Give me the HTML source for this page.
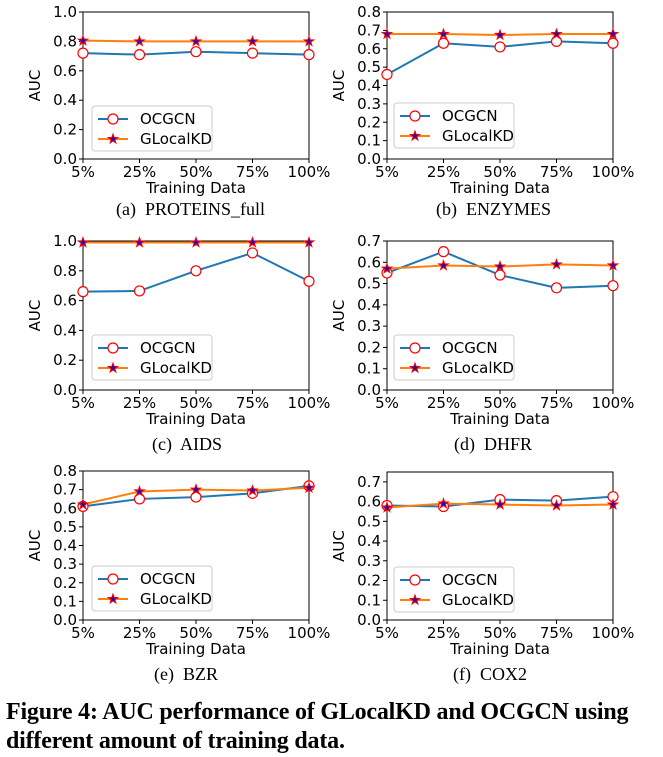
<!DOCTYPE html>
<html><head><meta charset="utf-8"><style>
body{margin:0;background:#fff;width:663px;height:757px;overflow:hidden}
svg{position:absolute;left:0;top:0}
.cap{position:absolute;font-family:"Liberation Serif",serif;font-size:18px;color:#000;white-space:nowrap}
.fig{position:absolute;left:6px;font-family:"Liberation Serif",serif;font-weight:bold;font-size:24px;line-height:29px;white-space:nowrap;letter-spacing:-0.2px}
</style></head><body>
<svg id="chart" width="663" height="757"></svg>
<div class="cap" style="left:116px;top:199px">(a)&nbsp; PROTEINS_full</div>
<div class="cap" style="left:436px;top:199px">(b)&nbsp; ENZYMES</div>
<div class="cap" style="left:152px;top:434px">(c)&nbsp; AIDS</div>
<div class="cap" style="left:454px;top:434px">(d)&nbsp; DHFR</div>
<div class="cap" style="left:154px;top:664px">(e)&nbsp; BZR</div>
<div class="cap" style="left:453px;top:664px">(f)&nbsp; COX2</div>
<div class="fig" style="top:698px">Figure 4: AUC performance of GLocalKD and OCGCN using<br>different amount of training data.</div>
<script>
const categories=["5%","25%","50%","75%","100%"];
const ocgcnA=[0.72,0.71,0.73,0.72,0.71];
const glocalA=[0.805,0.80,0.80,0.80,0.80];
const ocgcnB=[0.46,0.63,0.61,0.64,0.63];
const glocalB=[0.68,0.68,0.675,0.68,0.68];
const ocgcnC=[0.66,0.665,0.80,0.92,0.73];
const glocalC=[0.99,0.99,0.99,0.99,0.99];
const ocgcnD=[0.55,0.65,0.54,0.48,0.49];
const glocalD=[0.57,0.585,0.58,0.59,0.585];
const ocgcnE=[0.61,0.65,0.66,0.68,0.72];
const glocalE=[0.62,0.69,0.70,0.695,0.71];
const ocgcnF=[0.58,0.575,0.61,0.605,0.625];
const glocalF=[0.57,0.59,0.585,0.58,0.585];
const ticksA=[0,0.2,0.4,0.6,0.8,1.0];
const ticks08=[0,0.1,0.2,0.3,0.4,0.5,0.6,0.7,0.8];
const ticks07=[0,0.1,0.2,0.3,0.4,0.5,0.6,0.7];
const NS="http://www.w3.org/2000/svg";
const svg=document.getElementById('chart');
function mk(t,a,p){const e=document.createElementNS(NS,t);for(const k in a)e.setAttribute(k,a[k]);(p||svg).appendChild(e);return e;}
function star(cx,cy,r){let p=[];for(let i=0;i<10;i++){const rr=i%2?r*0.4:r;const a=-Math.PI/2+i*Math.PI/5;p.push((cx+rr*Math.cos(a)).toFixed(1)+","+(cy+rr*Math.sin(a)).toFixed(1));}return p.join(" ");}
const panels=[
 {id:"a",x0:83,x1:309,y0:12,y1:159,ymax:1.0,ticks:ticksA,o:ocgcnA,g:glocalA,leg:[92,106]},
 {id:"b",x0:387,x1:613,y0:12,y1:159,ymax:0.8,ticks:ticks08,o:ocgcnB,g:glocalB,leg:[394,103]},
 {id:"c",x0:83,x1:309,y0:241,y1:390,ymax:1.0,ticks:ticksA,o:ocgcnC,g:glocalC,leg:[92,335]},
 {id:"d",x0:387,x1:613,y0:241,y1:390,ymax:0.7,ticks:ticks07,o:ocgcnD,g:glocalD,leg:[394,335]},
 {id:"e",x0:83,x1:309,y0:471,y1:620,ymax:0.8,ticks:ticks08,o:ocgcnE,g:glocalE,leg:[92,566]},
 {id:"f",x0:387,x1:613,y0:472,y1:620,ymax:0.75,ticks:ticks07,o:ocgcnF,g:glocalF,leg:[394,567]}
];
panels.forEach(P=>{
 const g=mk('g',{});
 
 
 const xs=i=>P.x0+(P.x1-P.x0)*i/(categories.length-1);
 const ys=v=>P.y1-(P.y1-P.y0)*v/P.ymax;
 const fr=mk('rect',{x:P.x0,y:P.y0,width:P.x1-P.x0,height:P.y1-P.y0,fill:'none',stroke:'#000','stroke-width':1},g);
 
 
 P.ticks.forEach(t=>{const y=ys(t);mk('line',{x1:P.x0-4,x2:P.x0,y1:y,y2:y,stroke:'#000'},g);
  const tx=mk('text',{x:P.x0-6,y:y+5,'text-anchor':'end','font-family':'DejaVu Sans,sans-serif','font-size':15},g);tx.textContent=t.toFixed(1);
  
  });
 categories.forEach((c,i)=>{const x=xs(i);mk('line',{x1:x,x2:x,y1:P.y1,y2:P.y1+4,stroke:'#000'},g);
  const tx=mk('text',{x:x,y:P.y1+18,'text-anchor':'middle','font-family':'DejaVu Sans,sans-serif','font-size':15},g);tx.textContent=c;
  
  });
 const xl=mk('text',{x:(P.x0+P.x1)/2,y:P.y1+34,'text-anchor':'middle','font-family':'DejaVu Sans,sans-serif','font-size':15},g);xl.textContent='Training Data';
 
 
 const cy=(P.y0+P.y1)/2;
 const yl=mk('text',{x:P.x0-43,y:cy,'text-anchor':'middle','font-family':'DejaVu Sans,sans-serif','font-size':15,transform:`rotate(-90 ${P.x0-43} ${cy})`},g);yl.textContent='AUC';
 
 
 const pts=a=>a.map((v,i)=>xs(i)+','+ys(v)).join(' ');
 const lo=mk('polyline',{points:pts(P.o),fill:'none',stroke:'#1f77b4','stroke-width':2},g);
 
 
 const lg=mk('polyline',{points:pts(P.g),fill:'none',stroke:'#ff7f0e','stroke-width':2},g);
 
 
 P.o.forEach((v,i)=>{const c=mk('circle',{cx:xs(i),cy:ys(v),r:5,fill:'#fff',stroke:'red','stroke-width':1.2},g);
  
  });
 P.g.forEach((v,i)=>{const s=mk('polygon',{points:star(xs(i),ys(v),5),fill:'#1010c0',stroke:'red','stroke-width':1},g);
  
  });
 const lx=P.leg[0],ly=P.leg[1];
 const lb=mk('rect',{x:lx,y:ly,width:120,height:45,rx:3,fill:'#fff','fill-opacity':0.85,stroke:'#ccc'},g);
 
 
 mk('line',{x1:lx+6,x2:lx+36,y1:ly+13,y2:ly+13,stroke:'#1f77b4','stroke-width':2},g);
 mk('circle',{cx:lx+21,cy:ly+13,r:5,fill:'#fff',stroke:'red','stroke-width':1.2},g);
 mk('line',{x1:lx+6,x2:lx+36,y1:ly+33,y2:ly+33,stroke:'#ff7f0e','stroke-width':2},g);
 mk('polygon',{points:star(lx+21,ly+33,5),fill:'#1010c0',stroke:'red'},g);
 const t1=mk('text',{x:lx+48,y:ly+18,'font-family':'DejaVu Sans,sans-serif','font-size':15},g);t1.textContent='OCGCN';
 
 
 const t2=mk('text',{x:lx+48,y:ly+38,'font-family':'DejaVu Sans,sans-serif','font-size':15},g);t2.textContent='GLocalKD';
 
 
});
</script>
</body></html>
